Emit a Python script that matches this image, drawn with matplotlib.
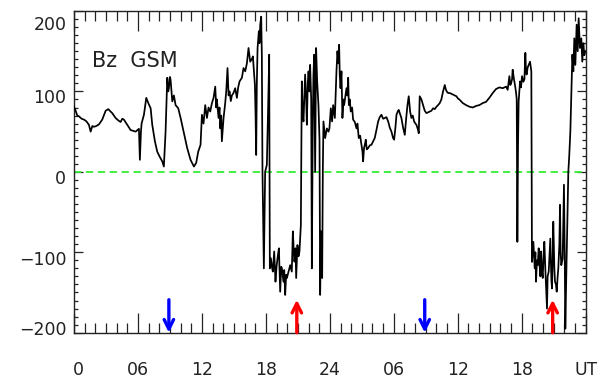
import matplotlib
matplotlib.use("Agg")
import matplotlib.pyplot as plt
from matplotlib.ticker import MultipleLocator, FixedLocator
from matplotlib.transforms import ScaledTranslation

# ---------------- data (hours since start, Bz GSM) ----------------
hours = [
    0.00, 0.15, 0.31, 0.47, 0.72, 0.93, 1.15, 1.40, 1.56, 1.72, 1.87, 2.09, 2.34, 2.65,
    2.97, 3.22, 3.43, 3.59, 3.90, 4.15, 4.37, 4.53, 4.68, 5.00, 5.31, 5.53, 5.78, 6.09,
    6.18, 6.28, 6.34, 6.56, 6.78, 6.97, 7.19, 7.34, 7.59, 7.81, 8.03, 8.28, 8.43, 8.59,
    8.75, 8.84, 8.90, 9.00, 9.06, 9.22, 9.37, 9.53, 9.78, 10.00, 10.31, 10.62, 10.93,
    11.25, 11.46, 11.65, 11.87,
    12.00, 12.15, 12.31, 12.47, 12.62, 12.78, 12.93, 13.09, 13.25, 13.34, 13.40, 13.56,
    13.65, 13.72, 13.81, 13.87, 13.96, 14.03, 14.18, 14.28, 14.40, 14.50, 14.59, 14.71,
    14.81, 14.96, 15.12, 15.28, 15.40, 15.53, 15.75, 15.90, 16.06, 16.22, 16.37, 16.53,
    16.68, 16.78, 16.90, 16.97, 17.03, 17.09, 17.15, 17.22, 17.34, 17.40, 17.47, 17.56,
    17.62, 17.68, 17.75, 17.81, 17.87, 17.93, 18.09, 18.18, 18.25, 18.31, 18.37, 18.47,
    18.56, 18.65, 18.78, 18.90, 19.00, 19.09, 19.22, 19.34, 19.44, 19.50, 19.65, 19.72,
    19.81, 19.90, 19.97, 20.12, 20.28, 20.43, 20.53, 20.62, 20.68, 20.78, 20.84, 20.96,
    21.06, 21.15, 21.28, 21.37, 21.46, 21.53, 21.62, 21.68, 21.78, 21.84, 21.93, 22.00,
    22.09, 22.15, 22.25, 22.31, 22.40, 22.46, 22.53, 22.62, 22.71, 22.81, 22.93, 23.03,
    23.09, 23.18, 23.28, 23.34, 23.40, 23.56, 23.72, 23.87, 23.96, 24.09, 24.21,
    24.31, 24.47, 24.62, 24.71, 24.81, 24.87, 24.93, 25.00, 25.09, 25.18, 25.28, 25.34,
    25.46, 25.56, 25.65, 25.72, 25.78, 25.87, 25.96, 26.09, 26.18, 26.34, 26.50, 26.59,
    26.71, 26.84, 26.96, 27.06, 27.12, 27.21, 27.28, 27.37, 27.46, 27.59, 27.75, 27.90,
    28.06, 28.21, 28.37, 28.53, 28.68, 28.84, 29.00, 29.15, 29.31, 29.47, 29.62, 29.78,
    29.93, 30.03, 30.15, 30.25, 30.40, 30.46, 30.59, 30.71, 30.87, 31.03, 31.15, 31.28,
    31.40, 31.53, 31.65, 31.78, 31.90, 32.03, 32.12, 32.28, 32.34, 32.43, 32.59, 32.75,
    32.90, 33.06, 33.21, 33.37, 33.53, 33.68, 33.84, 34.00, 34.15, 34.31, 34.46, 34.62,
    34.78, 34.87, 34.96, 35.09, 35.25, 35.40, 35.56, 35.71, 35.87, 36.03,
    36.15, 36.47, 36.78, 37.09, 37.40, 37.72, 38.03, 38.34, 38.65, 38.96, 39.28, 39.59,
    39.90, 40.22, 40.53, 40.68, 40.78, 40.84, 40.93, 41.00, 41.09, 41.15, 41.25, 41.31,
    41.40, 41.47, 41.53, 41.59, 41.65, 41.71, 41.84, 41.93, 42.03, 42.15, 42.25, 42.34,
    42.40, 42.46, 42.56, 42.65, 42.78, 42.90, 42.96, 43.09, 43.22, 43.28, 43.34, 43.43,
    43.50, 43.59, 43.65, 43.75, 43.81, 43.90, 43.97, 44.06, 44.12, 44.21, 44.28, 44.37,
    44.43, 44.53, 44.62, 44.68, 44.78, 44.84, 44.90, 44.96, 45.06, 45.12, 45.21, 45.28,
    45.37, 45.43, 45.53, 45.59, 45.65, 45.71, 45.84, 45.90, 45.96, 46.03, 46.09, 46.15,
    46.25, 46.37, 46.46, 46.56, 46.65, 46.75, 46.84, 46.93, 47.03, 47.15, 47.25, 47.34,
    47.46, 47.59, 47.68, 47.78, 47.87, 47.96,
]
bz = [
    81, 76, 70, 69, 66, 65, 63, 58.5, 50, 57, 56, 57, 59, 65,
    76, 78, 75, 73, 67, 64, 62, 66, 65, 58.5, 52, 51, 50, 53.5,
    15, 50, 60, 71, 92, 85.5, 79, 58.5, 38, 25, 19, 13, 6.6, 50,
    117, 100, 104, 118, 114.5, 87.6, 95, 83, 79, 67, 48, 29.5, 15,
    6.6, 11, 25, 33.6,
    71, 60, 83, 67, 80, 75, 85, 92, 106, 80, 90, 67,
    80, 54, 70, 38, 55, 67, 85, 100, 129, 95, 100, 88,
    95, 98, 104, 92, 105, 112.5, 117, 129, 125, 135, 154, 137,
    140, 143.6, 120, 108, 71, 21, 110, 154, 175, 160, 183, 193,
    145.7, 0, -62, -120, -60, 0, 8.7, 60, 104, 145.7, -120, -107.5,
    -118, -124, -99, -136.6, -118, -107.5, -95, -149, -118, -120, -136.6, -122,
    -153, -128, -132, -124, -116, -124, -74, -100, -111.7, -95, -132, -91,
    -105, -99, -66, 112.5, 70, 62.7, 100, 121, 90, 58.5, 110, 125,
    100, 133, 90, -120, 62.7, 120, 145.7, 0, 154, 112.5, 83, 40,
    -153, -74, -132, 0, 62.7, 42, 54, 50, 54, 79, 62.7,
    83, 67, 125, 150, 135, 158, 120, 104, 125, 67, 90, 83,
    95, 104, 95, 117, 83, 90, 75, 80, 65, 62, 54, 60,
    42, 45, 33.6, 25, 13, 30, 33.6, 40, 28, 29.5, 33, 33.6,
    38, 42, 52, 62.7, 68, 71, 66, 67, 68, 62.7, 55, 50,
    42, 40, 55, 71, 76, 77, 72, 67, 55, 46, 65, 83,
    94, 75, 67, 70, 62.7, 60, 58.5, 52, 48, 94, 90, 83,
    76, 73, 74, 75, 76, 79, 78, 81, 83, 85.5, 90, 100,
    108, 103, 100, 98, 98, 97, 96, 95, 94, 91,
    90, 85.5, 83, 81, 80, 82, 83, 85.5, 87, 92, 98, 103,
    105, 104, 106, 102, 112, 119, 108, 110, 115, 127, 117, 112.5,
    105, 98, 90, -87, 30, 87.6, 112.5, 105, 119, 112, 115, 148,
    125, 121, 130, 133, 137, 125, -112, -87, -120, -100, -136.6, -110,
    -116, -95, -112, -130, -99, -125, -132, -100, -87, -120, -141, -170,
    -130, -124, -100, -83, -135, -145, -110, -62, -120, -136.6, -140, -149,
    -130, -120, -90, -41, -100, -116, -108, -60, -16, -100, -195, -149,
    -83, 0, 21, 50, 96, 145.7, 125, 166, 133, 183, 150, 191,
    154, 166, 137, 160, 145, 150,
]

arrow_down_hours = [8.9, 32.9]   # blue arrows
arrow_up_hours = [20.9, 44.9]    # red arrows
arrow_top = -159
arrow_bottom = -200

xtick_pos = [0, 6, 12, 18, 24, 30, 36, 42, 48]
xtick_labels = ["0", "06", "12", "18", "24", "06", "12", "18", "UT"]
ytick_pos = [-200, -100, 0, 100, 200]
ytick_labels = ["\u2212200", "\u2212100", "0", "100", "200"]

# ---------------- figure ----------------
plt.rcParams["font.family"] = ["DejaVu Sans"]
fig = plt.figure(figsize=(5.97, 3.79), dpi=100)
ax = fig.add_axes([74 / 597, 1 - 332.7 / 379, (585.7 - 74) / 597, (332.7 - 11) / 379])

ax.plot(hours, bz, color="black", lw=1.25, zorder=3)
ax.axhline(0, color="#33ee33", lw=1.3, ls=(0, (4.0, 2.6)), zorder=2)

ax.set_xlim(0, 48)
ax.set_ylim(-200, 200)

ax.xaxis.set_major_locator(FixedLocator(xtick_pos))
ax.set_xticklabels(xtick_labels)
ax.xaxis.set_minor_locator(MultipleLocator(1))
ax.yaxis.set_major_locator(FixedLocator(ytick_pos))
ax.set_yticklabels(ytick_labels)
ax.yaxis.set_minor_locator(MultipleLocator(10))

ax.tick_params(axis="x", which="major", direction="in", length=14.4, width=0.9,
               top=True, bottom=True, labelsize=12.5, pad=20.5, colors="#222222")
ax.tick_params(axis="x", which="minor", direction="in", length=7.2, width=0.9,
               top=True, bottom=True, colors="#222222")
ax.tick_params(axis="y", which="major", direction="in", length=6.5, width=0.9,
               left=True, right=True, labelsize=12.5, pad=5.5, colors="#222222")
ax.tick_params(axis="y", which="minor", direction="in", length=2.6, width=0.9,
               left=True, right=True, colors="#222222")
for sp in ax.spines.values():
    sp.set_linewidth(1.0)
    sp.set_color("#222222")

ax.text(0.0355, 0.845, "Bz  GSM", transform=ax.transAxes, fontsize=15,
        color="#222222", ha="left", va="center")

for h in arrow_down_hours:
    ax.annotate("", xy=(h, arrow_bottom), xytext=(h, arrow_top),
                arrowprops=dict(arrowstyle="->", color="#0000ff", lw=2.4,
                                shrinkA=0, shrinkB=0, mutation_scale=17),
                annotation_clip=False, zorder=4)
for h in arrow_up_hours:
    ax.annotate("", xy=(h, arrow_top), xytext=(h, arrow_bottom),
                arrowprops=dict(arrowstyle="->", color="#ff0000", lw=2.4,
                                shrinkA=0, shrinkB=0, mutation_scale=17),
                annotation_clip=False, zorder=4)

fig.canvas.draw()

def shift(label, dx_px, dy_px):
    label.set_transform(label.get_transform() +
                        ScaledTranslation(dx_px / 100, dy_px / 100, fig.dpi_scale_trans))

xl = ax.xaxis.get_majorticklabels()
shift(xl[0], 4.5, 0)
yl = ax.yaxis.get_majorticklabels()
y_offsets = {"\u2212200": 5, "\u2212100": -5.5, "0": -5.5, "100": -4.5, "200": -12.5}
for lab in yl:
    shift(lab, 0, y_offsets.get(lab.get_text(), 0))

fig.savefig("out.png", dpi=100)
